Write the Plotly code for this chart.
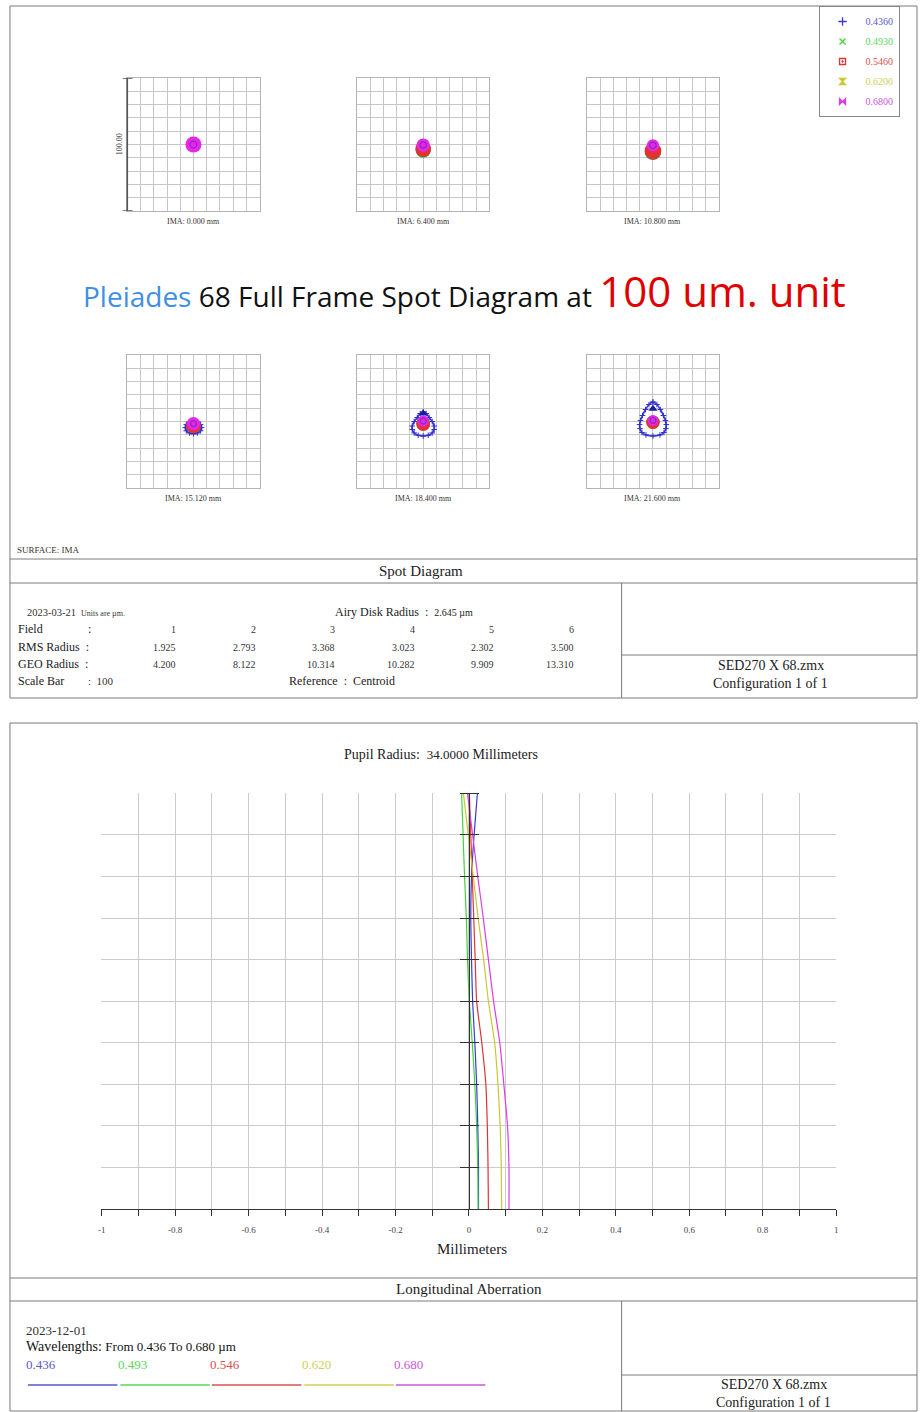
import plotly.graph_objects as go

W, H = 920, 1412
SERIF = "Liberation Serif, Times New Roman, serif"
SANS = "Open Sans, DejaVu Sans, sans-serif"

# ---------------- data ----------------
wavelengths = ["0.4360", "0.4930", "0.5460", "0.6200", "0.6800"]
wl_short = ["0.436", "0.493", "0.546", "0.620", "0.680"]
wl_colors = ["#3a3ad6", "#3fd33f", "#e23232", "#c8c832", "#dc3ce6"]
wl_text_colors = ["#5a5ac8", "#5cd65c", "#d85050", "#cfcf55", "#cc55dd"]
legend_symbols = ["cross-thin", "x-thin", "square-open-dot", "hourglass", "bowtie"]

field_heights = ["IMA: 0.000 mm", "IMA: 6.400 mm", "IMA: 10.800 mm",
                 "IMA: 15.120 mm", "IMA: 18.400 mm", "IMA: 21.600 mm"]
field_ids = ["1", "2", "3", "4", "5", "6"]
rms_radius = ["1.925", "2.793", "3.368", "3.023", "2.302", "3.500"]
geo_radius = ["4.200", "8.122", "10.314", "10.282", "9.909", "13.310"]

# spot centroids (µm, relative to chief ray) and radii (µm) per field
spot_dx = [0.0, 0.0, 0.0, 0.0, 0.0, 0.0]
yellow_dy = [0.0, -3.8, -5.2, -3.0, -1.4, -0.4]
yellow_r = [5.0, 5.6, 6.0, 5.2, 5.0, 4.8]
green_dy = [0.0, -4.2, -5.6, -3.4, -1.2, -0.6]
green_r = [5.0, 5.7, 6.1, 5.4, 5.2, 5.0]
red_dy = [0.0, -3.3, -4.9, -3.2, -1.9, -0.6]
red_r = [5.4, 5.9, 6.3, 5.6, 5.2, 5.0]
magenta_dy = [0.0, -0.4, -0.6, -1.6, 0.4, 0.8]
magenta_r = [6.0, 5.0, 4.6, 5.0, 4.2, 4.0]
ring_r = [2.6, 2.4, 2.4, 2.2, 2.2, 2.2]
blue_core_dy = [0.0, 1.5, 2.0, 0.5, 6.0, 9.5]

# blue (0.436 µm) spot outlines for the outer fields (µm)
outline4_x = [0.0, 3.0, 5.4, 6.2, 5.4, 3.0, 0.0, -3.0, -5.4, -6.2, -5.4, -3.0, 0.0]
outline4_y = [0.6, -0.2, -2.2, -4.6, -7.0, -8.6, -9.2, -8.6, -7.0, -4.6, -2.2, -0.2, 0.6]
outline5_x = [0.0, 2.3, 4.5, 6.8, 8.3, 8.3, 6.8, 3.8, 0.0, -3.8, -6.8, -8.3, -8.3, -6.8, -4.5, -2.3, 0.0]
outline5_y = [7.1, 6.0, 3.0, 0.0, -3.4, -6.0, -8.6, -10.4, -10.9, -10.4, -8.6, -6.0, -3.4, 0.0, 3.0, 6.0, 7.1]
outline6_x = [0.0, 3.0, 5.6, 7.9, 9.4, 10.1, 9.8, 8.3, 5.3, 0.0, -5.3, -8.3, -9.8, -10.1, -9.4, -7.9, -5.6, -3.0, 0.0]
outline6_y = [14.6, 12.8, 9.0, 4.5, 0.8, -2.3, -5.3, -8.3, -10.1, -10.9, -10.1, -8.3, -5.3, -2.3, 0.8, 4.5, 9.0, 12.8, 14.6]

# longitudinal aberration (mm) vs normalized pupil
pupil = [0.0, 0.1, 0.2, 0.3, 0.4, 0.5, 0.6, 0.7, 0.8, 0.9, 1.0]
focus_436 = [0.026, 0.026, 0.024, 0.021, 0.016, 0.010, 0.007, 0.005, 0.007, 0.014, 0.023]
focus_493 = [0.025, 0.024, 0.021, 0.016, 0.009, 0.001, -0.004, -0.007, -0.012, -0.016, -0.020]
focus_546 = [0.053, 0.052, 0.050, 0.046, 0.035, 0.021, 0.017, 0.013, 0.009, 0.005, 0.001]
focus_620 = [0.089, 0.088, 0.085, 0.079, 0.070, 0.053, 0.040, 0.025, 0.012, -0.002, -0.015]
focus_680 = [0.109, 0.109, 0.105, 0.095, 0.084, 0.067, 0.053, 0.039, 0.024, 0.010, -0.004]
x_tick_vals = [-1, -0.8, -0.6, -0.4, -0.2, 0, 0.2, 0.4, 0.6, 0.8, 1]
x_tick_text = ["-1", "-0.8", "-0.6", "-0.4", "-0.2", "0", "0.2", "0.4", "0.6", "0.8", "1"]

# ---------------- layout helpers ----------------
def px(x):
    return x / W


def py(y):
    return 1 - y / H


annotations = []
shapes = []


def T(text, x, y, size=12, color="#222", anchor="left", family=SERIF, **kw):
    annotations.append(dict(text=text, x=px(x), y=py(y), xref="paper", yref="paper",
                            xanchor=anchor, yanchor="middle", showarrow=False,
                            font=dict(size=size, color=color, family=family), **kw))


def L(x0, y0, x1, y1, color="#7a7a7a", width=1):
    shapes.append(dict(type="line", xref="paper", yref="paper", x0=px(x0), y0=py(y0),
                       x1=px(x1), y1=py(y1), line=dict(color=color, width=width)))


fig = go.Figure()
axes = {}

# ---------------- spot diagrams ----------------
BOX = 133
spot_cols = [125, 356, 587]
spot_rows = [78, 355]
SCALE = BOX / 100.0  # px per µm

outlines = {3: (outline4_x, outline4_y), 4: (outline5_x, outline5_y), 5: (outline6_x, outline6_y)}

for i in range(6):
    r, c = divmod(i, 3)
    left, top = spot_cols[c], spot_rows[r]
    sfx = "" if i == 0 else str(i + 1)
    axes["xaxis" + sfx] = dict(domain=[px(left), px(left + BOX)], range=[-50, 50], anchor="y" + sfx,
                               dtick=10, tick0=0, showgrid=True, gridcolor="#c6c6c6", gridwidth=1,
                               showline=True, linecolor="#b4b4b4", mirror=True, zeroline=False,
                               showticklabels=False, ticks="", fixedrange=True)
    axes["yaxis" + sfx] = dict(domain=[py(top + BOX), py(top)], range=[-50, 50], anchor="x" + sfx,
                               dtick=10, tick0=0, showgrid=True, gridcolor="#c6c6c6", gridwidth=1,
                               showline=True, linecolor="#b4b4b4", mirror=True, zeroline=False,
                               showticklabels=False, ticks="", fixedrange=True)
    xa, ya = "x" + sfx, "y" + sfx
    if i in outlines:
        ox, oy = outlines[i]
        fig.add_trace(go.Scatter(x=ox, y=oy, xaxis=xa, yaxis=ya, mode="lines+markers",
                                 line=dict(color="#3b3bd8", width=1.6, shape="spline"),
                                 marker=dict(symbol="cross-thin", size=4, line=dict(color="#3030cc", width=1)),
                                 showlegend=False, hoverinfo="skip"))
    discs = [(yellow_dy, yellow_r, "#9a8a10"), (green_dy, green_r, "#3aa04a"),
             (red_dy, red_r, wl_colors[2]), (magenta_dy, magenta_r, "#e626ea")]
    if i >= 4:
        fig.add_trace(go.Scatter(x=[spot_dx[i]], y=[blue_core_dy[i]], xaxis=xa, yaxis=ya, mode="markers",
                                 marker=dict(symbol="triangle-up", size=3.0 * SCALE * 2, color="#1a1aa0"),
                                 showlegend=False, hoverinfo="skip"))
    for dy, rr, col in discs:
        fig.add_trace(go.Scatter(x=[spot_dx[i]], y=[dy[i]], xaxis=xa, yaxis=ya, mode="markers",
                                 marker=dict(symbol="circle", size=2 * rr[i] * SCALE, color=col,
                                             line=dict(width=0)),
                                 showlegend=False, hoverinfo="skip"))
    fig.add_trace(go.Scatter(x=[spot_dx[i]], y=[magenta_dy[i]], xaxis=xa, yaxis=ya, mode="markers",
                             marker=dict(symbol="circle-open", size=2 * ring_r[i] * SCALE, color="#8a2bb0",
                                         line=dict(width=1.2, color="#8a2bb0")),
                             showlegend=False, hoverinfo="skip"))
    T(field_heights[i], left + BOX / 2, top + BOX + 10, 8, "#333", "center")

# scale bar on the first spot box
shapes.append(dict(type="line", xref="x domain", yref="y", x0=0, x1=0, y0=-50, y1=50,
                   line=dict(color="#555", width=1.5)))
for yv in (-50, 50):
    shapes.append(dict(type="line", xref="x domain", yref="y", x0=-0.035, x1=0.04, y0=yv, y1=yv,
                       line=dict(color="#555", width=1.5)))
T("100.00", 117, 144, 8, "#333", "center", textangle=-90)

# legend entries (wavelengths)
for k in range(5):
    fig.add_trace(go.Scatter(x=[None], y=[None], xaxis="x7", yaxis="y7", mode="markers",
                             legendgroup="wl%d" % k,
                             name="<span style='color:%s'>%s</span>" % (wl_text_colors[k], wavelengths[k]),
                             marker=dict(symbol=legend_symbols[k], size=6, color=wl_colors[k],
                                         line=dict(color=wl_colors[k], width=1.3))))

# ---------------- longitudinal aberration ----------------
LX0, LX1, LY0, LY1 = 99, 838, 793, 1209
axes["xaxis7"] = dict(domain=[px(LX0), px(LX1)], range=[-1.0008, 1.0008], anchor="y7",
                      tickmode="array", tickvals=x_tick_vals, ticktext=x_tick_text,
                      showgrid=True, gridcolor="#cbcbcb", gridwidth=1,
                      ticks="outside", ticklen=6, tickcolor="#333", tickwidth=1,
                      minor=dict(dtick=0.1, tick0=0, ticks="outside", ticklen=6, tickcolor="#333",
                                 showgrid=True, gridcolor="#cbcbcb"),
                      showline=True, linecolor="#333", linewidth=1, zeroline=False,
                      tickfont=dict(size=9, family=SERIF, color="#444"), ticklabelstandoff=6,
                      fixedrange=True)
zero_pos = px(LX0) + (0 - (-1)) / 2.0 * (px(LX1) - px(LX0))
axes["yaxis7"] = dict(domain=[py(LY1), py(LY0)], range=[0, 1.0008], anchor="free", position=zero_pos,
                      side="left", dtick=0.1, tick0=0, showgrid=True, gridcolor="#cbcbcb",
                      ticks="outside", ticklen=9, tickcolor="#333", showticklabels=False,
                      showline=True, linecolor="#333", linewidth=1.2, zeroline=False, fixedrange=True)
axes["yaxis8"] = dict(overlaying="y7", matches="y7", anchor="free", position=zero_pos, side="right",
                      dtick=0.1, tick0=0, showgrid=False, ticks="outside", ticklen=9, tickcolor="#333",
                      showticklabels=False, showline=False, zeroline=False, fixedrange=True)
fig.add_trace(go.Scatter(x=[0], y=[0.5], xaxis="x7", yaxis="y8", mode="markers",
                         marker=dict(size=1, opacity=0), showlegend=False, hoverinfo="skip"))

for k, f in enumerate([focus_436, focus_493, focus_546, focus_620, focus_680]):
    fig.add_trace(go.Scatter(x=f, y=pupil, xaxis="x7", yaxis="y7", mode="lines",
                             line=dict(color=wl_colors[k], width=1.2, shape="spline", smoothing=0.6),
                             showlegend=False, hoverinfo="skip"))

# ---------------- frames ----------------
L(7, 6, 919, 6); L(7, 6, 7, 698); L(919, 6, 919, 698); L(7, 698, 919, 698)
L(7, 559, 919, 559); L(7, 583, 919, 583)
L(622, 583, 622, 698); L(622, 655, 919, 655)

L(7, 723, 919, 723); L(7, 723, 7, 1411); L(919, 723, 919, 1411); L(7, 1411, 919, 1411)
L(7, 1278, 919, 1278); L(7, 1301, 919, 1301)
L(622, 1301, 622, 1411); L(622, 1375, 919, 1375)

# ---------------- texts ----------------
T("<span style='color:#3f8fe3'>Pleiades</span> 68 Full Frame Spot Diagram at "
  "<span style='color:#e00000;font-size:42px'>100 um. unit</span>",
  464, 291, 28, "#111", "center", SANS)

T("SURFACE: IMA", 12, 550, 9, "#333")
T("Spot Diagram", 420, 571, 15, "#222", "center")
T("2023-03-21", 22, 612, 10.5, "#333")
T("Units are µm.", 76, 613, 8, "#333")
T("Airy Disk Radius  :  <span style='font-size:10px'>2.645 µm</span>", 332, 612, 12, "#222")
T("Field", 13, 629, 12, "#222"); T(":", 83, 629, 12, "#222")
T("RMS Radius  :", 13, 647, 12, "#222")
T("GEO Radius  :", 13, 664, 12, "#222")
T("Scale Bar", 13, 681, 12, "#222"); T(":  100", 83, 681, 11, "#333")
for j in range(6):
    xr = 176 + 80 * j
    T(field_ids[j], xr, 629, 10, "#333", "right")
    T(rms_radius[j], xr, 647, 10, "#333", "right")
    T(geo_radius[j], xr, 664, 10, "#333", "right")
T("Reference  :  Centroid", 286, 681, 12, "#222")
T("SED270 X 68.zmx", 772, 665, 14, "#222", "center")
T("Configuration 1 of 1", 772, 683, 14, "#222", "center")

T("Pupil Radius:  <span style='font-size:13px'>34.0000</span> Millimeters", 440, 754, 14, "#222", "center")
T("Millimeters", 472, 1249, 15, "#222", "center")
T("Longitudinal Aberration", 469, 1289, 15, "#222", "center")
T("2023-12-01", 21, 1330, 13, "#333")
T("Wavelengths: <span style='font-size:13px'>From 0.436 To 0.680 µm</span>", 21, 1346, 14, "#111")
wl_x = [21, 114, 206, 299, 391]
for k in range(5):
    T(wl_short[k], wl_x[k], 1364, 13, wl_text_colors[k])
    L(wl_x[k] + 4, 1385, wl_x[k] + 94, 1385, wl_text_colors[k], 1.3)
T("SED270 X 68.zmx", 775, 1384, 14, "#222", "center")
T("Configuration 1 of 1", 775, 1402, 14, "#222", "center")

fig.update_layout(
    width=W, height=H, margin=dict(l=0, r=0, t=0, b=0),
    paper_bgcolor="white", plot_bgcolor="white",
    showlegend=True,
    legend=dict(x=px(820), y=py(6), xanchor="left", yanchor="top", bgcolor="white",
                bordercolor="#888", borderwidth=1, font=dict(size=10, family=SERIF),
                itemclick=False, itemdoubleclick=False, tracegroupgap=1, itemwidth=36),
    annotations=annotations, shapes=shapes, **axes)

fig.write_html("out.html", config={"displayModeBar": False},
               post_script="document.body.style.margin='0px';document.body.style.overflow='hidden';")
